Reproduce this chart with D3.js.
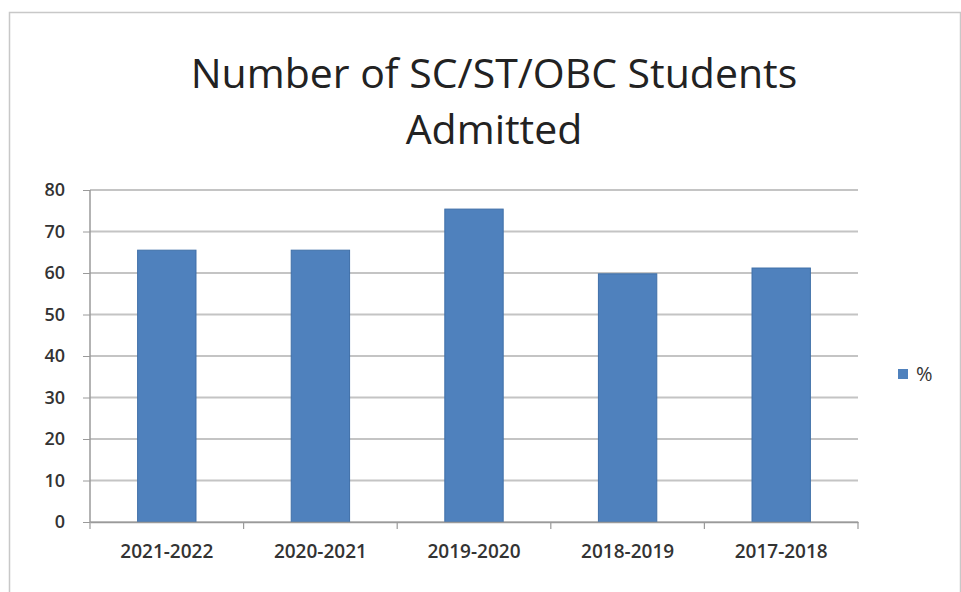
<!DOCTYPE html>
<html><head><meta charset="utf-8">
<script src="https://cdn.jsdelivr.net/npm/d3@7"></script>
<style>body{margin:0;background:#fff}svg{display:block}</style>
</head><body><div id="c"></div>
<script>
const categories = ["2021-2022","2020-2021","2019-2020","2018-2019","2017-2018"];
const values = [65.5, 65.5, 75.4, 59.8, 61.2];
const yTicks = [0,10,20,30,40,50,60,70,80];
const seriesName = "%";
const titleLines = ["Number of SC/ST/OBC Students","Admitted"];

const W=961,H=592;
const svg=d3.select("#c").append("svg").attr("width",W).attr("height",H);
svg.append("rect").attr("x",0).attr("y",0).attr("width",W).attr("height",H).attr("fill","#fff");
svg.append("rect").attr("x",9.5).attr("y",12.5).attr("width",W-10).attr("height",H-8)
  .attr("fill","none").attr("stroke","#c8c8c8").attr("stroke-width",1.5);

const m={l:90,r:858,t:190,b:522};
const x=d3.scaleBand().domain(categories).range([m.l,m.r]).paddingInner(0.62).paddingOuter(0.31);
const y=d3.scaleLinear().domain([0,80]).range([m.b,m.t]);

const g=svg.append("g");
g.selectAll("line.grid").data(yTicks).join("line")
  .attr("x1",m.l).attr("x2",m.r).attr("y1",d=>y(d)).attr("y2",d=>y(d))
  .attr("stroke","#c4c4c4").attr("stroke-width",2);

g.selectAll("rect.bar").data(values).join("rect")
  .attr("x",(d,i)=>x(categories[i])).attr("width",x.bandwidth())
  .attr("y",d=>y(d)).attr("height",d=>y(0)-y(d))
  .attr("fill","#4f81bd").attr("stroke","#3f6fa8").attr("stroke-width",1);

const ya=svg.append("g").attr("transform",`translate(${m.l},0)`)
  .call(d3.axisLeft(y).tickValues(yTicks).tickSize(7).tickPadding(18));
ya.select(".domain").attr("stroke","#9a9a9a").attr("stroke-width",1.5).attr("d",`M-0,${m.t}V${m.b}`);
ya.selectAll(".tick line").attr("stroke","#9a9a9a");
ya.selectAll("text").attr("font-family","Open Sans, sans-serif").attr("font-size",18).attr("fill","#333").attr("font-weight","600");

const xa=svg.append("g").attr("transform",`translate(0,${m.b})`)
  .call(d3.axisBottom(x).tickSize(0).tickPadding(23));
xa.select(".domain").attr("stroke","#9a9a9a").attr("stroke-width",1.5);
xa.selectAll("text").attr("font-family","Open Sans, sans-serif").attr("font-size",19).attr("fill","#333").attr("font-weight","600");
const bounds=d3.range(categories.length+1).map(i=>m.l+i*(m.r-m.l)/categories.length);
svg.selectAll("line.xt").data(bounds).join("line")
  .attr("x1",d=>d).attr("x2",d=>d).attr("y1",m.b).attr("y2",m.b+7)
  .attr("stroke","#9a9a9a").attr("stroke-width",1.2);

svg.append("text").attr("x",494).attr("text-anchor","middle")
  .attr("font-family","Open Sans, sans-serif").attr("font-size",41).attr("fill","#222")
  .selectAll("tspan").data(titleLines).join("tspan")
  .attr("x",494).attr("y",(d,i)=>88+i*56).text(d=>d);

const lg=svg.append("g").attr("transform","translate(898,369)");
lg.append("rect").attr("width",10).attr("height",10).attr("fill","#4f81bd");
lg.append("text").attr("x",18).attr("y",12).attr("font-family","Open Sans, sans-serif")
  .attr("font-size",20).attr("fill","#333").text(seriesName);
</script></body></html>
